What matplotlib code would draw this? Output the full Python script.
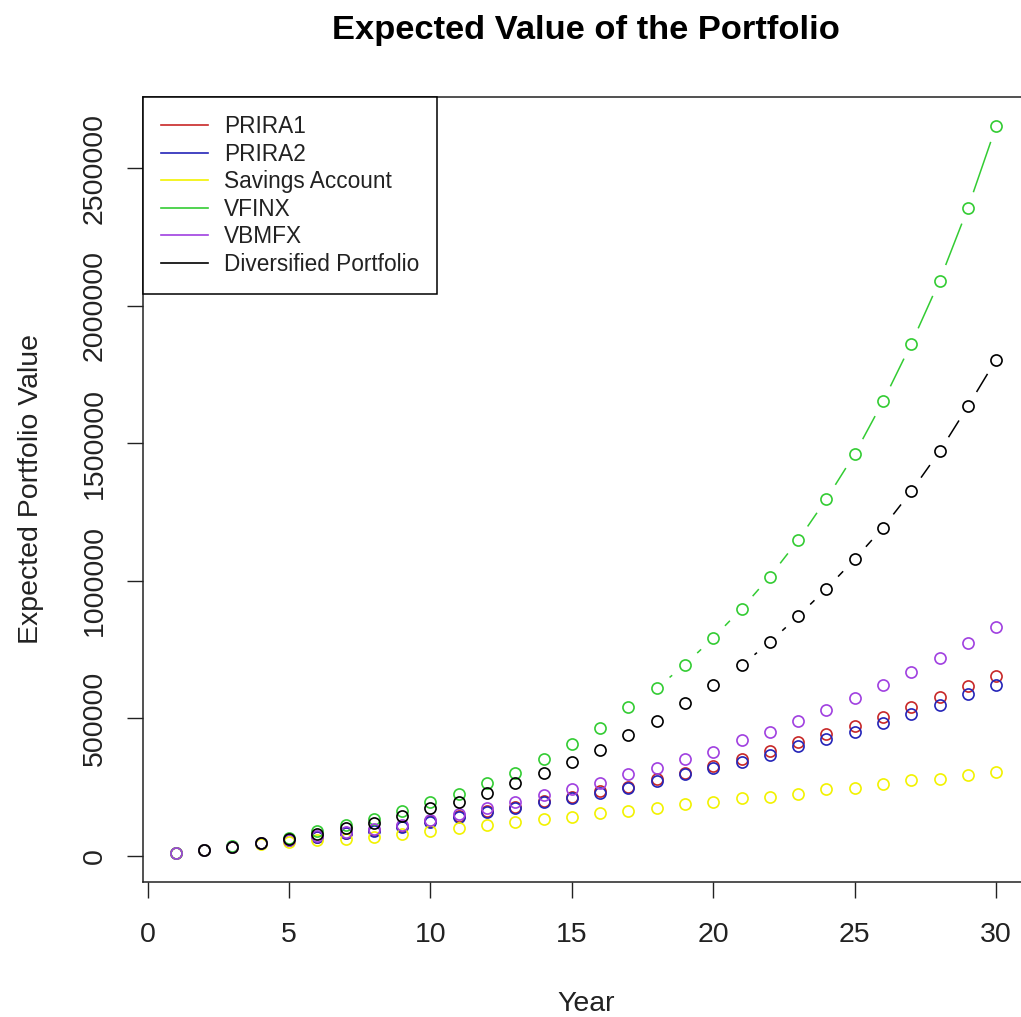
import numpy as np
import matplotlib
matplotlib.use("Agg")
import matplotlib.pyplot as plt
from matplotlib.lines import Line2D

plt.rcParams['font.family'] = ['Liberation Sans', 'DejaVu Sans']

nan = np.nan
years = list(range(1, 31))

prira1 = [10000, 20000, 32000, 45000, 56000, 68000, 82000, 93000, 108000, 127000,
          143000, 161000, 178000, 198000, 214000, 235000, 251000, 277000, 299000, 326000,
          350000, 382000, 415000, 442000, 473000, 506000, 540000, 577000, 616000, 654000]
prira2 = [10000, 20000, 32000, 45000, 56000, 67000, 81000, 91000, 106000, 124000,
          140000, 158000, 175000, 194000, 208000, 229000, 247000, 271000, 296000, 320000,
          342000, 366000, 397000, 425000, 451000, 482000, 516000, 549000, 589000, 622000]
savings = [10000, 20000, 31000, 41000, 50000, 56000, 62000, 69000, 80000, 89000,
           101000, 111000, 123000, 135000, 141000, 156000, 162000, 174000, 187000, 196000,
           208000, 214000, 226000, 241000, 247000, 260000, 275000, 279000, 293000, 305000]
vfinx = [10000, 21000, 34000, 47000, 66000, 88000, 111000, 135000, 162000, 196000,
         226000, 263000, 302000, 351000, 406000, 466000, 539000, 609000, 695000, 792000,
         898000, 1015000, 1147000, 1297000, 1461000, 1652000, 1862000, 2091000, 2355000, 2653000]
vbmfx = [10000, 20000, 32000, 46000, 58000, 70000, 86000, 97000, 113000, 131000,
         153000, 172000, 194000, 220000, 242000, 263000, 296000, 320000, 352000, 378000,
         419000, 451000, 490000, 530000, 575000, 622000, 668000, 719000, 774000, 832000]
diversified = [nan, 21000, 33000, 46000, 62000, 80000, 99000, 117000, 145000, 172000,
               196000, 229000, 263000, 299000, 339000, 384000, 437000, 490000, 555000, 622000,
               692000, 777000, 871000, 971000, 1078000, 1193000, 1325000, 1470000, 1634000, 1804000]

series_names = ["PRIRA1", "PRIRA2", "Savings Account", "VFINX", "VBMFX", "Diversified Portfolio"]
series_values = [prira1, prira2, savings, vfinx, vbmfx, diversified]
colors = ['#C82828', '#2424B8', '#F2F200', '#33CC33', '#A040E0', '#000000']

y_ticks = [0, 500000, 1000000, 1500000, 2000000, 2500000]
x_ticks = [0, 5, 10, 15, 20, 25, 30]

fig = plt.figure(figsize=(10.21, 10.17), dpi=100)
ax = fig.add_axes([143 / 1021, 135 / 1017, 886 / 1021, 785 / 1017])

# R style axis ranges (4% padding)
allv = np.array(series_values, dtype=float)
ymin, ymax = np.nanmin(allv), np.nanmax(allv)
pad = 0.04 * (ymax - ymin)
ax.set_ylim(ymin - pad, ymax + pad)
xpad = 0.04 * (max(years) - min(years))
ax.set_xlim(min(years) - xpad, max(years) + xpad)

gap = 17.5  # pixels left blank around each point (type="b")
inv = ax.transData.inverted()
for name, vals, col in zip(series_names, series_values, colors):
    x = np.array(years, dtype=float)
    y = np.array(vals, dtype=float)
    pts = ax.transData.transform(np.column_stack([x, y]))
    for i in range(len(x) - 1):
        if np.isnan(y[i]) or np.isnan(y[i + 1]):
            continue
        p0, p1 = pts[i], pts[i + 1]
        d = np.hypot(*(p1 - p0))
        if d <= 2 * gap:
            continue
        u = (p1 - p0) / d
        seg = inv.transform(np.array([p0 + u * gap, p1 - u * gap]))
        ax.plot(seg[:, 0], seg[:, 1], color=col, lw=1.1)
    ax.plot(x, y, linestyle='none', marker='o', markersize=8, markerfacecolor='none',
            markeredgecolor=col, markeredgewidth=1.2)

ax.set_xticks(x_ticks)
ax.set_xticklabels([str(t) for t in x_ticks])
ax.set_yticks(y_ticks)
ax.set_yticklabels([str(t) for t in y_ticks], rotation=90, va='center')
ax.tick_params(axis='both', length=11.5, width=1, labelsize=20.5, color='#222222',
               labelcolor='#222222')
ax.tick_params(axis='x', pad=17)
ax.tick_params(axis='y', pad=14)
for s in ax.spines.values():
    s.set_linewidth(1.1)
    s.set_color('#222222')

ax.set_xlabel("Year", fontsize=20.5, va='center', color='#222222')
ax.set_ylabel("Expected Portfolio Value", fontsize=20.5, va='center', color='#222222')
ax.xaxis.set_label_coords(0.5, (882 - 1004) / 785)
ax.yaxis.set_label_coords((31 - 143) / 886, 0.5)

ax.text(0.5, (882 - 31) / 785, "Expected Value of the Portfolio", transform=ax.transAxes,
        ha='center', va='center', fontsize=24.8, fontweight='bold')

handles = [Line2D([0], [0], color=c, lw=1.2) for c in colors]
leg = ax.legend(handles, series_names, loc='upper left', bbox_to_anchor=(0, 1),
                borderaxespad=0, fontsize=16.3, frameon=True, fancybox=False,
                handlelength=2.08, handletextpad=0.7, borderpad=0.8, labelspacing=0.2)
leg.get_frame().set_edgecolor('black')
leg.get_frame().set_linewidth(1.1)
leg.get_frame().set_alpha(1)
for t in leg.get_texts():
    t.set_color('#222222')

fig.savefig("out.png", dpi=100, facecolor='white')
